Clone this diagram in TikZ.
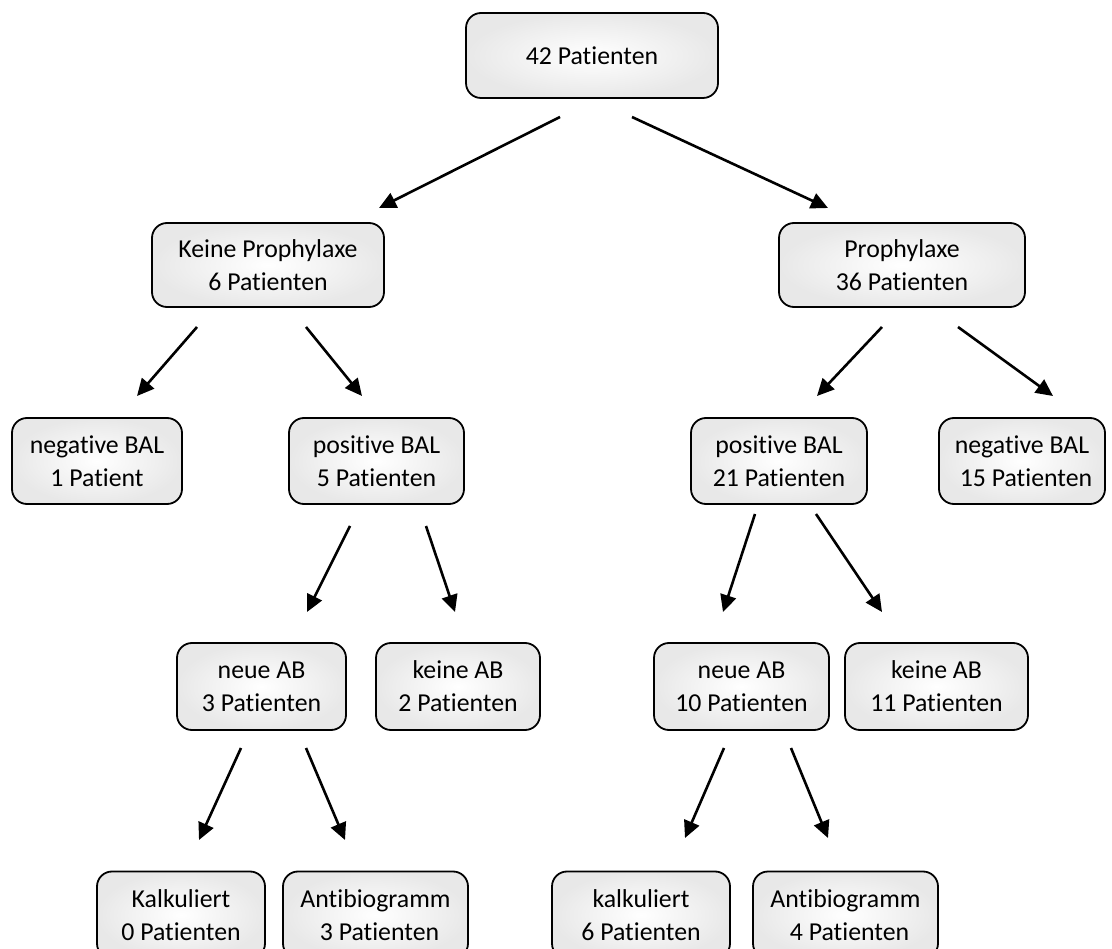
\documentclass[tikz,border=0pt]{standalone}
\usepackage{fontspec}
\setmainfont{Carlito}[Ligatures=NoCommon]
\usetikzlibrary{arrows.meta}
\tikzset{
  box/.style={draw=black, line width=1.8pt, rounded corners=15pt, inner color=white, outer color=black!9,
    align=center, font=\fontsize{25.8pt}{33pt}\selectfont, inner sep=0pt, anchor=center},
  arr/.style={line width=2.6pt, -{Triangle[length=17pt,width=16pt]}}
}
\begin{document}
\begin{tikzpicture}[x=1pt,y=-1pt]
\useasboundingbox (0,0) rectangle (1112,949);
\clip (0,0) rectangle (1112,949);
% nodes
\node[box, minimum width=252pt, minimum height=85pt] (top) at (592,55.5) {42 Patienten};
\node[box, minimum width=232pt, minimum height=84pt] (kp) at (268,265) {Keine Prophylaxe\\6 Patienten};
\node[box, minimum width=246pt, minimum height=84pt] (p) at (902,265) {Prophylaxe\\36 Patienten};
\node[box, minimum width=170pt, minimum height=86pt] (n1) at (97,461) {negative BAL\\1 Patient};
\node[box, minimum width=175pt, minimum height=86pt] (p5) at (376.5,461) {positive BAL\\5 Patienten};
\node[box, minimum width=176pt, minimum height=86pt] (p21) at (779,461) {positive BAL\\21 Patienten};
\node[box, minimum width=166pt, minimum height=86pt] (n15) at (1022,461) {negative BAL\\\hspace*{8pt}15 Patienten};
\node[box, minimum width=169pt, minimum height=87pt] (na3) at (261.5,686.5) {neue AB\\3 Patienten};
\node[box, minimum width=164pt, minimum height=87pt] (ka2) at (458,686.5) {keine AB\\2 Patienten};
\node[box, minimum width=175pt, minimum height=87pt] (na10) at (741.5,686.5) {neue AB\\10 Patienten};
\node[box, minimum width=183pt, minimum height=87pt] (ka11) at (936.5,686.5) {keine AB\\11 Patienten};
\node[box, minimum width=168pt, minimum height=87pt] (k0) at (181,915) {Kalkuliert\\0 Patienten};
\node[box, minimum width=185pt, minimum height=87pt] (a3) at (375.5,915) {Antibiogramm\\\hspace*{8pt}3 Patienten};
\node[box, minimum width=178pt, minimum height=87pt] (k6) at (641,915) {kalkuliert\\6 Patienten};
\node[box, minimum width=185pt, minimum height=87pt] (a4) at (845.5,915) {Antibiogramm\\\hspace*{8pt}4 Patienten};
% arrow end points
\coordinate (s1) at (560,117); \coordinate (e1) at (379,208);
\coordinate (s2) at (632,117); \coordinate (e2) at (828,208);
\coordinate (s3) at (197,327); \coordinate (e3) at (137,396);
\coordinate (s4) at (306,327); \coordinate (e4) at (362,396);
\coordinate (s5) at (882,327); \coordinate (e5) at (817,396);
\coordinate (s6) at (958,327); \coordinate (e6) at (1053,396);
\coordinate (s7) at (350,526); \coordinate (e7) at (307,612);
\coordinate (s8) at (426,526); \coordinate (e8) at (455,612);
\coordinate (s9) at (755,514); \coordinate (e9) at (723,612);
\coordinate (s10) at (816,514); \coordinate (e10) at (882,612);
\coordinate (s11) at (241,748); \coordinate (e11) at (199,840);
\coordinate (s12) at (306,748); \coordinate (e12) at (345,840);
\coordinate (s13) at (724,748); \coordinate (e13) at (685,838);
\coordinate (s14) at (791,748); \coordinate (e14) at (828,838);
\foreach \i in {1,...,14} { \draw[arr] (s\i) -- (e\i); }
\end{tikzpicture}
\end{document}
